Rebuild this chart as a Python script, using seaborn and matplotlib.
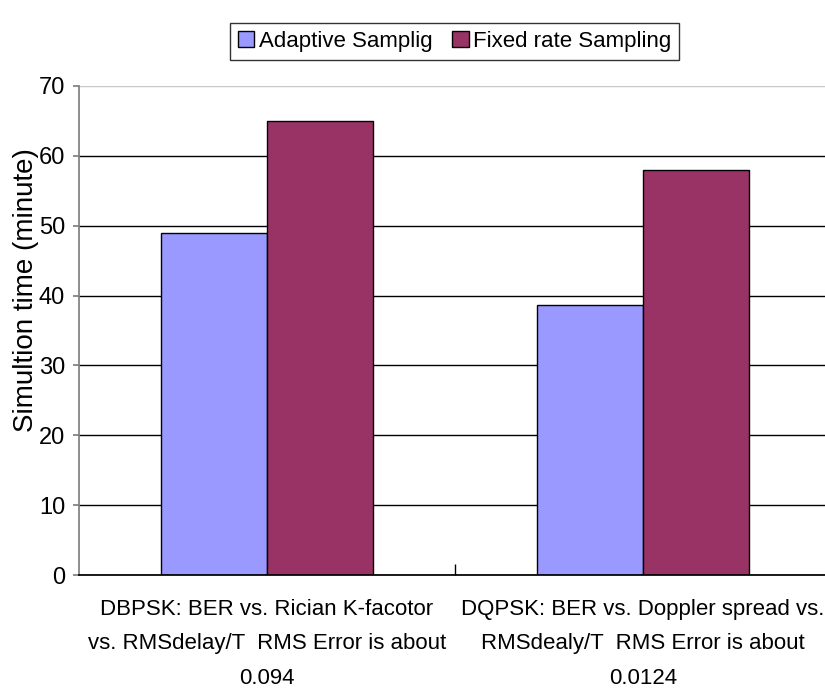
import matplotlib
matplotlib.use("Agg")
import matplotlib.pyplot as plt
import seaborn as sns
import pandas as pd

categories = [
    "DBPSK: BER vs. Rician K-facotor\nvs. RMSdelay/T  RMS Error is about\n0.094",
    "DQPSK: BER vs. Doppler spread vs.\nRMSdealy/T  RMS Error is about\n0.0124",
]
series = ["Adaptive Samplig", "Fixed rate Sampling"]
adaptive = [49, 38.6]
fixed = [65, 58]
colors = ["#9999FF", "#993366"]
yticks = [0, 10, 20, 30, 40, 50, 60, 70]

df = pd.DataFrame({
    "cat": categories * 2,
    "series": [series[0]] * 2 + [series[1]] * 2,
    "val": adaptive + fixed,
})

sns.set_theme(style="white")
plt.rcParams["font.family"] = ["Liberation Sans", "DejaVu Sans"]
plt.rcParams["text.color"] = "black"
plt.rcParams["axes.labelcolor"] = "black"
plt.rcParams["xtick.color"] = "black"
plt.rcParams["ytick.color"] = "black"

fig = plt.figure(figsize=(8.25, 6.91), dpi=100)
ax = fig.add_axes([79 / 825, 1 - 575 / 691, 1 - 79 / 825, (575 - 86) / 691])

sns.barplot(data=df, x="cat", y="val", hue="series", palette=colors,
            edgecolor="black", linewidth=1, width=0.565, ax=ax, legend=True,
            saturation=1)

ax.set_ylim(0, 70)
ax.set_yticks(yticks)
ax.set_xlim(-0.5, 1.484)
ax.yaxis.grid(True, color="black", linewidth=1)
ax.get_ygridlines()[-1].set_color("#c8c8c8")
ax.set_axisbelow(True)
ax.spines["top"].set_visible(False)
ax.spines["right"].set_visible(False)
ax.spines["left"].set_color("#808080")
ax.spines["bottom"].set_color("black")
ax.tick_params(axis="y", which="major", left=True, length=4, color="#808080",
               labelsize=17, pad=6)
ax.set_xticks([0, 1])
ax.set_xticklabels(categories, linespacing=1.85, fontsize=16)
ax.tick_params(axis="x", which="major", bottom=False, pad=11)
ax.set_xticks([0.5], minor=True)
ax.tick_params(axis="x", which="minor", bottom=True, direction="in", length=8,
               color="black")
ax.set_xlabel("")
ax.set_ylabel("Simultion time (minute)", fontsize=20)
ax.yaxis.set_label_coords(-0.054, 0.583)

handles, labels = ax.get_legend_handles_labels()
ax.legend_.remove()
leg = fig.legend(handles, labels, loc="center", bbox_to_anchor=(0.551, 0.940),
                 ncol=2, frameon=True, fancybox=False, fontsize=16,
                 handlelength=0.75, handleheight=0.75, handletextpad=0.2,
                 columnspacing=0.9, borderpad=0.35, borderaxespad=0)
leg.get_frame().set_edgecolor("black")
leg.get_frame().set_linewidth(1)

fig.savefig("out.png", dpi=100)
